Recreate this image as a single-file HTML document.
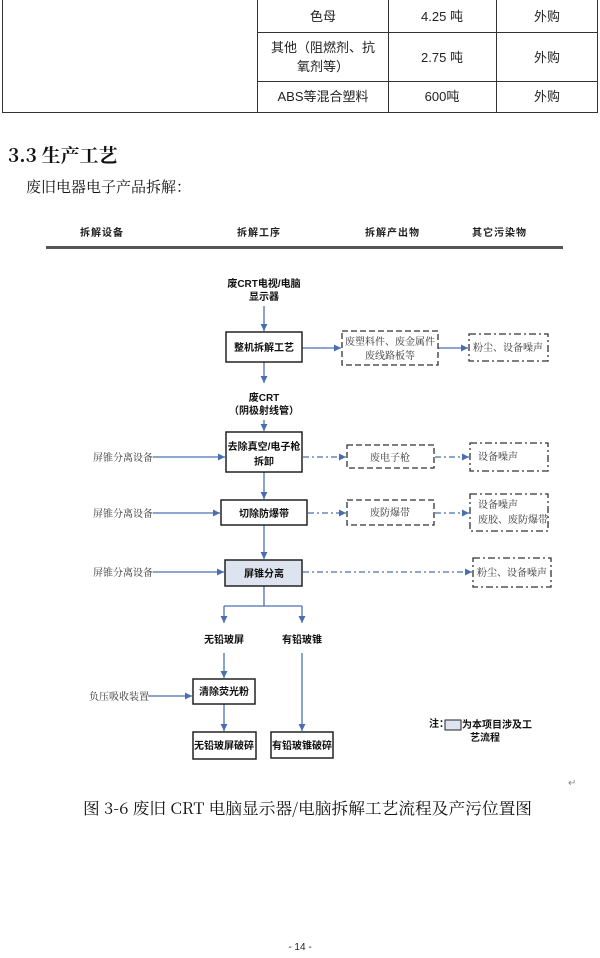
<!DOCTYPE html>
<html><head><meta charset="utf-8"><style>
body{margin:0;background:#fff;width:600px;height:958px;overflow:hidden}
svg{display:block}
.s{font-family:"Liberation Sans","Noto Sans CJK SC",sans-serif}
.r{font-family:"Liberation Serif","Noto Serif CJK SC",serif}
.c{font-family:"Noto Serif CJK SC",serif}
.b{font-family:"Liberation Sans","Noto Sans CJK SC",sans-serif;font-weight:bold}
</style></head><body>
<svg width="600" height="958" viewBox="0 0 600 958" xmlns="http://www.w3.org/2000/svg">
<defs>
<marker id="a" markerWidth="8" markerHeight="8" refX="7" refY="4" orient="auto" markerUnits="userSpaceOnUse"><path d="M0,0.5 L7,4 L0,7.5z" fill="#4a6fb0"/></marker>
</defs>
<g stroke="#333" stroke-width="1" fill="none">
<path d="M2.5,0 V112.5 H597.5 V0 M257.5,0 V112.5 M388.5,0 V112.5 M496.5,0 V112.5 M257.5,32.5 H597.5 M257.5,81.5 H597.5"/>
</g>
<g class="s" font-size="13" fill="#222" text-anchor="middle">
<text x="323" y="21">色母</text>
<text x="442" y="21">4.25 吨</text>
<text x="547" y="21">外购</text>
<text x="323" y="52">其他（阻燃剂、抗</text>
<text x="323" y="71">氧剂等）</text>
<text x="442" y="62">2.75 吨</text>
<text x="547" y="62">外购</text>
<text x="323" y="101">ABS等混合塑料</text>
<text x="442" y="101">600吨</text>
<text x="547" y="101">外购</text>
</g>
<text x="8" y="162" class="c" font-size="19" font-weight="bold" fill="#111">3.3 生产工艺</text>
<text x="26" y="192" class="c" font-size="15" fill="#111">废旧电器电子产品拆解：</text>
<g class="b" font-size="10" fill="#222">
<text x="80" y="236" letter-spacing="1">拆解设备</text>
<text x="237" y="236" letter-spacing="1">拆解工序</text>
<text x="365" y="236" letter-spacing="1">拆解产出物</text>
<text x="472" y="236" letter-spacing="1">其它污染物</text>
</g>
<rect x="46" y="246" width="517" height="3" fill="#555"/>
<g stroke="#4a6fb0" stroke-width="1.3" fill="none" marker-end="url(#a)">
<path d="M264,306 V331"/>
<path d="M302,348 H341"/>
<path d="M438,348 H468"/>
<path d="M264,362 V383"/>
<path d="M264,420 V431"/>
<path d="M153,457 H225"/>
<path d="M264,472 V499"/>
<path d="M153,513 H220"/>
<path d="M264,525 V559"/>
<path d="M153,572 H224"/>
<path d="M224,606 V623"/>
<path d="M302,606 V623"/>
<path d="M224,653 V678"/>
<path d="M148,696 H192"/>
<path d="M224,704 V731"/>
<path d="M302,653 V731"/>
</g>
<path d="M264,586 V606 M224,606 H302" stroke="#4a6fb0" stroke-width="1.3" fill="none"/>
<g stroke="#4a6fb0" stroke-width="1.2" fill="none" stroke-dasharray="6,3,2,3" marker-end="url(#a)">
<path d="M303,457 H346"/>
<path d="M435,457 H469"/>
<path d="M308,513 H346"/>
<path d="M435,513 H469"/>
<path d="M303,572 H472"/>
</g>
<g stroke="#222" stroke-width="1.5" fill="#fff">
<rect x="226" y="332" width="76" height="30"/>
<rect x="226" y="432" width="76" height="40"/>
<rect x="221" y="500" width="86" height="25"/>
<rect x="225" y="560" width="77" height="26" fill="#dde4f0"/>
<rect x="193" y="679" width="62" height="25"/>
<rect x="193" y="732" width="63" height="27"/>
<rect x="271" y="732" width="62" height="26"/>
<rect x="445" y="720" width="16" height="10" fill="#dde4f0" stroke-width="1"/>
</g>
<g stroke="#333" stroke-width="1.3" fill="none" stroke-dasharray="6,3">
<rect x="342" y="331" width="96" height="34"/>
<rect x="347" y="445" width="87" height="23"/>
<rect x="347" y="500" width="87" height="25"/>
</g>
<g stroke="#333" stroke-width="1.3" fill="none" stroke-dasharray="7,3,2,3">
<rect x="469" y="334" width="79" height="27"/>
<rect x="470" y="443" width="78" height="28"/>
<rect x="470" y="494" width="78" height="37"/>
<rect x="473" y="558" width="78" height="29"/>
</g>
<g class="b" font-size="10" fill="#111" text-anchor="middle">
<text x="264" y="287">废CRT电视/电脑</text>
<text x="264" y="300">显示器</text>
<text x="264" y="351">整机拆解工艺</text>
<text x="264" y="401">废CRT</text>
<text x="264" y="414">（阴极射线管）</text>
<text x="264" y="450">去除真空/电子枪</text>
<text x="264" y="465">拆卸</text>
<text x="264" y="517">切除防爆带</text>
<text x="264" y="577">屏锥分离</text>
<text x="224" y="643">无铅玻屏</text>
<text x="302" y="643">有铅玻锥</text>
<text x="224" y="695">清除荧光粉</text>
<text x="224" y="749">无铅玻屏破碎</text>
<text x="302" y="749">有铅玻锥破碎</text>
<text x="429" y="727" text-anchor="start">注：</text>
<text x="462" y="728" text-anchor="start">为本项目涉及工</text>
<text x="470" y="741" text-anchor="start">艺流程</text>
</g>
<g class="r" font-size="10" fill="#333">
<text x="390" y="345" text-anchor="middle">废塑料件、废金属件</text>
<text x="390" y="359" text-anchor="middle">废线路板等</text>
<text x="508" y="351" text-anchor="middle">粉尘、设备噪声</text>
<text x="390" y="461" text-anchor="middle">废电子枪</text>
<text x="478" y="460">设备噪声</text>
<text x="390" y="516" text-anchor="middle">废防爆带</text>
<text x="478" y="508">设备噪声</text>
<text x="478" y="523">废胶、废防爆带</text>
<text x="512" y="576" text-anchor="middle">粉尘、设备噪声</text>
<text x="93" y="461">屏锥分离设备</text>
<text x="93" y="517">屏锥分离设备</text>
<text x="93" y="576">屏锥分离设备</text>
<text x="89" y="700">负压吸收装置</text>
</g>
<text x="568" y="786" font-size="10" fill="#888" class="s">↵</text>
<text x="83" y="814" class="c" font-size="16" fill="#111" textLength="449" lengthAdjust="spacingAndGlyphs">图 3-6 废旧 CRT 电脑显示器/电脑拆解工艺流程及产污位置图</text>
<text x="300" y="950" class="s" font-size="10" fill="#222" text-anchor="middle">- 14 -</text>
</svg>
</body></html>
